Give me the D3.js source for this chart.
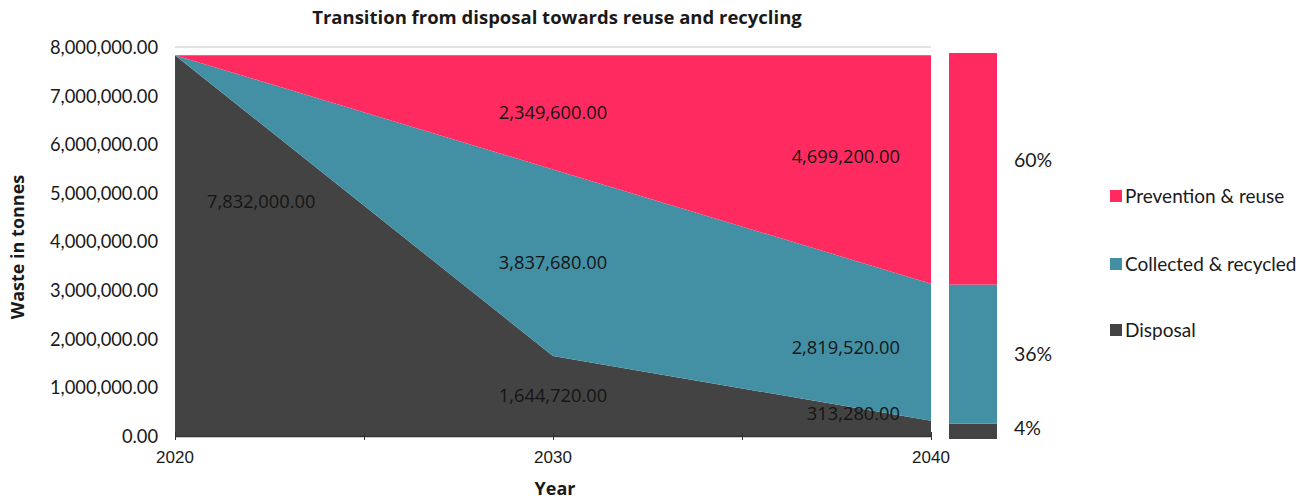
<!DOCTYPE html>
<html>
<head>
<meta charset="utf-8">
<script src="https://cdn.jsdelivr.net/npm/d3@7"></script>
<style>
  body { margin: 0; background: #fff; }
  text { font-family: Lato, "Open Sans", sans-serif; fill: #1a1a1a; }
  .title { font-family: "Open Sans", sans-serif; font-weight: bold; font-size: 18.5px; }
  .axisTitle { font-family: "Open Sans", sans-serif; font-weight: bold; font-size: 18px; }
  .tick text { font-size: 18.3px; }
  .yearLabel { font-family: "Liberation Sans", Arial, sans-serif; font-size: 17px; }
  .valLabel { font-family: "Open Sans", sans-serif; font-size: 18.3px; fill: #151515; }
  .legend text { font-size: 19px; }
  .pct { font-size: 19.5px; }
</style>
</head>
<body>
<svg id="chart" width="1315" height="499"></svg>
<script>
var years = [2020, 2030, 2040];
var disposal = [7832000, 1644720, 313280];
var collected = [0, 3837680, 2819520];
var prevention = [0, 2349600, 4699200];
var seriesNames = ["Disposal", "Collected & recycled", "Prevention & reuse"];
var shareLabels = ["4%", "36%", "60%"];
var shares = [4, 36, 60];
var yTicks = [0, 1000000, 2000000, 3000000, 4000000, 5000000, 6000000, 7000000, 8000000];
var xLabelTicks = [2020, 2030, 2040];
var xMinorTicks = [2020, 2025, 2030, 2035, 2040];

var colors = ["#434343", "#4390a5", "#ff2a60"];

var svg = d3.select("#chart");

var data = years.map(function (y, i) {
    return {year: y, d: disposal[i], c: collected[i], p: prevention[i]};
});
var keys = ["d", "c", "p"];
var stacked = d3.stack().keys(keys)(data);

var x = d3.scaleLinear().domain([2020, 2040]).range([175, 931]);
var y = d3.scaleLinear().domain([0, 8000000]).range([436, 47]);

var fmt = d3.format(",.2f");

// top gridline
svg.append("line")
    .attr("x1", x(2020)).attr("x2", x(2040))
    .attr("y1", y(8000000)).attr("y2", y(8000000))
    .attr("stroke", "#c4c4c4").attr("stroke-width", 1);

var area = d3.area()
    .x(function (d) { return x(d.data.year); })
    .y0(function (d) { return y(d[0]); })
    .y1(function (d) { return y(d[1]); });

svg.selectAll(".layer")
    .data(stacked)
    .enter().append("path")
    .attr("class", "layer")
    .attr("fill", function (d, i) { return colors[i]; })
    .attr("d", area);

// y axis
var yAxis = svg.append("g")
    .attr("transform", "translate(" + x(2020) + ",0)")
    .call(d3.axisLeft(y).tickValues(yTicks).tickFormat(fmt).tickSize(0).tickPadding(17));
yAxis.select(".domain").remove();
yAxis.selectAll(".tick text").attr("fill", "#1a1a1a").attr("dy", "0.35em");

// x axis
var xAxis = svg.append("g")
    .attr("transform", "translate(0," + y(0) + ")")
    .call(d3.axisBottom(x).tickValues(xMinorTicks).tickFormat("").tickSize(4).tickSizeOuter(0));
xAxis.select(".domain").attr("stroke", "#333").attr("stroke-width", 1.3);
xAxis.selectAll(".tick line").attr("stroke", "#333").attr("y1", -4);

svg.selectAll(".yearLabel")
    .data(xLabelTicks)
    .enter().append("text")
    .attr("class", "yearLabel")
    .attr("x", function (d) { return x(d); })
    .attr("y", 463)
    .attr("text-anchor", "middle")
    .text(function (d) { return d; });

// value labels inside the areas
var nudge = {"d": [-44, 0, -15], "c": [0, 0, -5], "p": [0, 0, -13]};
stacked.forEach(function (layer) {
    layer.forEach(function (pt, i) {
        var v = pt[1] - pt[0];
        if (v <= 0) return;
        var yr = pt.data.year;
        var anchor = "middle", lx = x(yr);
        if (i === 0) { anchor = "start"; lx = x(yr) + 32; }
        if (i === years.length - 1) { anchor = "end"; lx = x(yr) - 31; }
        svg.append("text")
            .attr("class", "valLabel")
            .attr("x", lx)
            .attr("y", y((pt[0] + pt[1]) / 2) + nudge[layer.key][i])
            .attr("dy", "0.35em")
            .attr("text-anchor", anchor)
            .text(fmt(v));
    });
});

// share bar for 2040
var bx = d3.scaleBand().domain(["share"]).range([949, 997]);
var by = d3.scaleLinear().domain([0, 100]).range([439, 53]);
var cum = 0;
var shareData = shares.map(function (s, i) {
    var o = {y0: cum, y1: cum + s, label: shareLabels[i], color: colors[i]};
    cum += s;
    return o;
});
svg.selectAll(".share")
    .data(shareData)
    .enter().append("rect")
    .attr("class", "share")
    .attr("x", bx("share"))
    .attr("width", bx.bandwidth())
    .attr("y", function (d) { return by(d.y1); })
    .attr("height", function (d) { return by(d.y0) - by(d.y1); })
    .attr("fill", function (d) { return d.color; });

var pctNudge = [-3, 0, -9];
svg.selectAll(".pct")
    .data(shareData)
    .enter().append("text")
    .attr("class", "pct")
    .attr("x", 1014)
    .attr("y", function (d, i) { return by((d.y0 + d.y1) / 2) + pctNudge[i]; })
    .attr("dy", "0.35em")
    .text(function (d) { return d.label; });

// legend
var legendY = [330, 264, 196];
var legend = svg.append("g").attr("class", "legend");
seriesNames.forEach(function (name, i) {
    legend.append("rect")
        .attr("x", 1110).attr("y", legendY[i] - 6)
        .attr("width", 12).attr("height", 12)
        .attr("fill", colors[i]);
    legend.append("text")
        .attr("x", 1125).attr("y", legendY[i])
        .attr("dy", "0.35em")
        .text(name);
});

// titles
svg.append("text")
    .attr("class", "title")
    .attr("x", 557).attr("y", 24)
    .attr("text-anchor", "middle")
    .text("Transition from disposal towards reuse and recycling");

svg.append("text")
    .attr("class", "axisTitle")
    .attr("x", 555).attr("y", 495)
    .attr("text-anchor", "middle")
    .text("Year");

svg.append("text")
    .attr("class", "axisTitle")
    .attr("transform", "translate(24,247) rotate(-90)")
    .attr("text-anchor", "middle")
    .text("Waste in tonnes");
</script>
</body>
</html>
